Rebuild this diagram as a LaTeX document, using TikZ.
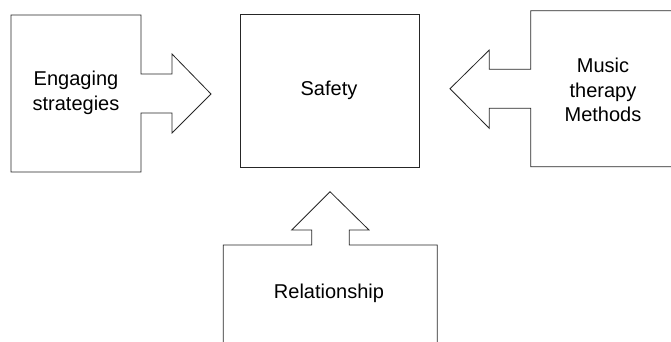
\documentclass[tikz,border=0pt]{standalone}
\usepackage{fontspec}
\setmainfont{Liberation Sans}
\begin{document}
\begin{tikzpicture}[x=1pt,y=-1pt,
  shapeline/.style={draw=black!85, line width=0.8pt, line join=miter},
  lbl/.style={font=\fontsize{20}{24.5}\selectfont, align=center, text=black, inner sep=0pt}]
\useasboundingbox (0,0) rectangle (671,341);
\clip (0,0) rectangle (671,341);
% Left arrow-box
\draw[shapeline] (11,15) -- (141,15) -- (141,74) -- (172,74) -- (172,54) -- (211,94)
  -- (172,133) -- (172,113) -- (141,113) -- (141,172) -- (11,172) -- cycle;
% Safety box
\draw[shapeline] (240,14) rectangle (419,167);
% Right arrow-box
\draw[shapeline] (680,10.7) -- (530.7,10.7) -- (530.7,69.3) -- (489.3,69.3) -- (489.3,50)
  -- (450,88.7) -- (489.3,128.3) -- (489.3,108.3) -- (530.7,108.3) -- (530.7,166.7) -- (680,166.7);
% Bottom arrow-box
\draw[shapeline] (223.3,350) -- (223.3,245) -- (311.7,245) -- (311.7,230) -- (291.7,230)
  -- (330,191.7) -- (369,230) -- (349.3,230) -- (349.3,245) -- (437.3,245) -- (437.3,350);
% Labels
\node[lbl] (eng) at (76,93) {Engaging\\strategies};
\node[lbl] (saf) at (329,90) {Safety};
\node[lbl] (mus) at (603,90) {Music\\therapy\\Methods};
\node[lbl] (rel) at (329,293) {Relationship};
\end{tikzpicture}
\end{document}
